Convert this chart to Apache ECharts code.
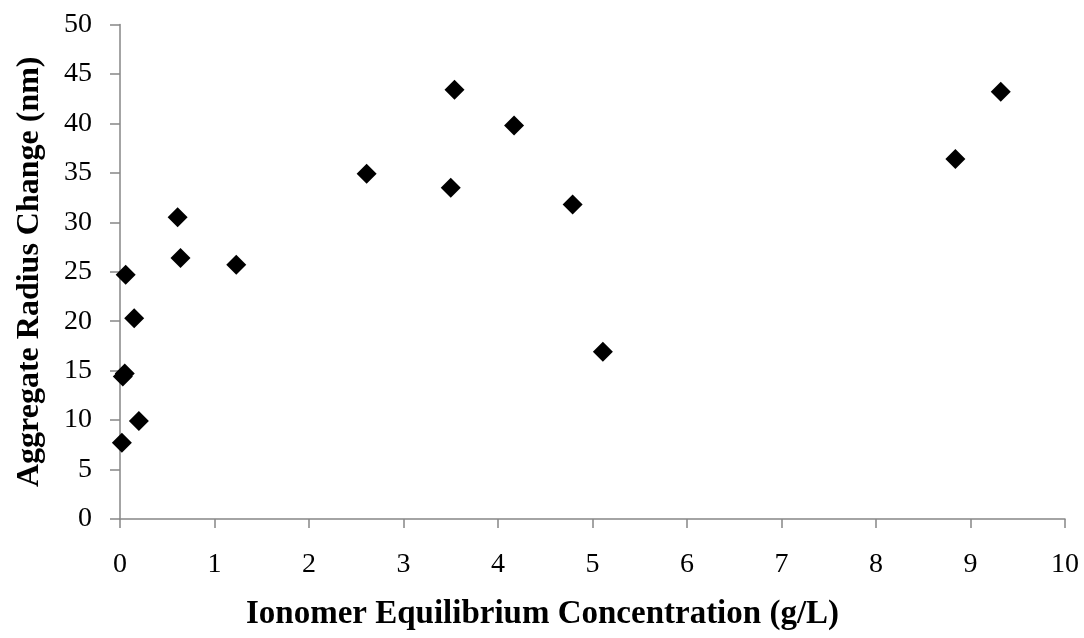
<!DOCTYPE html>
<html>
<head>
<meta charset="utf-8">
<script src="https://cdn.jsdelivr.net/npm/echarts@6/dist/echarts.min.js"></script>
<style>
  html, body { margin: 0; padding: 0; background: #fff; }
  #chart { width: 1084px; height: 638px; }
</style>
</head>
<body>
<div id="chart"></div>
<script>
// Ionomer equilibrium concentration (g/L) vs. aggregate radius change (nm)
const concentration = [0.02, 0.03, 0.05, 0.06, 0.15, 0.20, 0.61, 0.64, 1.23, 2.61, 3.50, 3.54, 4.17, 4.79, 5.11, 8.84, 9.32];
const radiusChange  = [7.7, 14.4, 14.7, 24.7, 20.3, 9.9, 30.5, 26.4, 25.7, 34.9, 33.5, 43.4, 39.8, 31.8, 16.9, 36.4, 43.2];

const xTitle = 'Ionomer Equilibrium Concentration (g/L)';
const yTitle = 'Aggregate Radius Change (nm)';

const points = concentration.map((c, i) => [c, radiusChange[i]]);

const axisGray = '#868686';
const serif = '"Liberation Serif", "Times New Roman", serif';

const chart = echarts.init(document.getElementById('chart'), null, { renderer: 'canvas' });
chart.setOption({
  backgroundColor: '#ffffff',
  animation: false,
  grid: { left: 120, right: 19, top: 24.5, bottom: 119, containLabel: false },
  xAxis: {
    type: 'value',
    min: 0, max: 10, interval: 1,
    name: xTitle,
    nameLocation: 'middle',
    nameGap: 79,
    // title sits centred on the whole chart width rather than the plot area
    nameTextStyle: { fontFamily: serif, fontSize: 33, fontWeight: 'bold', color: '#000', padding: [0, 100, 0, 0] },
    axisLine: { show: true, lineStyle: { color: axisGray, width: 1.5 } },
    axisTick: { show: true, length: 9, lineStyle: { color: axisGray, width: 1.5 } },
    axisLabel: { margin: 32, fontFamily: serif, fontSize: 28, color: '#000' },
    splitLine: { show: false }
  },
  yAxis: {
    type: 'value',
    min: 0, max: 50, interval: 5,
    name: yTitle,
    nameLocation: 'middle',
    nameGap: 74,
    nameRotate: 90,
    nameTextStyle: { fontFamily: serif, fontSize: 32, fontWeight: 'bold', color: '#000' },
    axisLine: { show: true, lineStyle: { color: axisGray, width: 1.5 } },
    axisTick: { show: true, length: 10, lineStyle: { color: axisGray, width: 1.5 } },
    axisLabel: { margin: 28, fontFamily: serif, fontSize: 28, color: '#000' },
    splitLine: { show: false }
  },
  series: [{
    type: 'scatter',
    data: points,
    symbol: 'diamond',
    symbolSize: 20,
    itemStyle: { color: '#000000', opacity: 1 }
  }]
});
</script>
</body>
</html>
